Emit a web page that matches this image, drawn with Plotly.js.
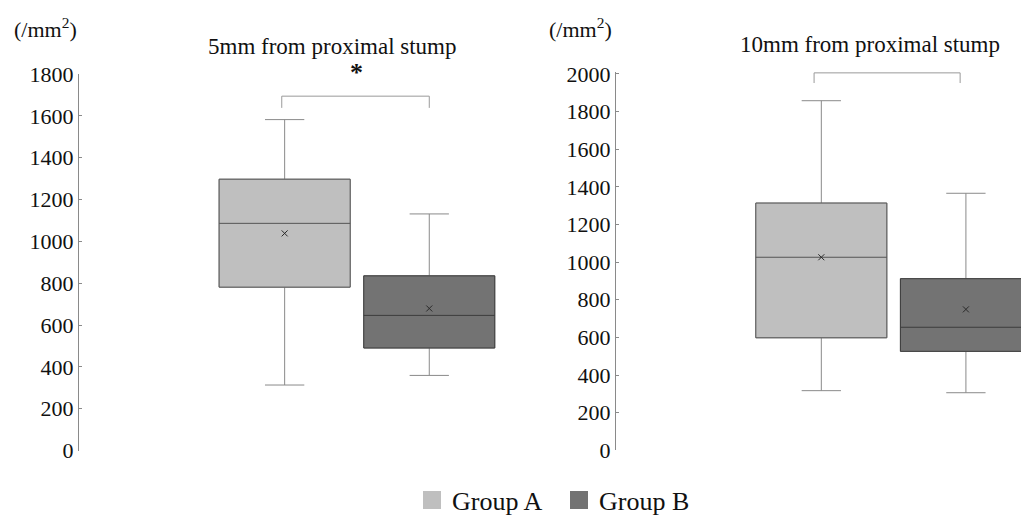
<!DOCTYPE html>
<html>
<head>
<meta charset="utf-8">
<script src="https://cdn.plot.ly/plotly-3.0.1.min.js"></script>
<style>html,body{margin:0;padding:0;background:#fff;}#chart{width:1021px;height:516px;}</style>
</head>
<body>
<div id="chart"></div>
<script>
// ---- data ----
const categories = ['Group A', 'Group B'];
const panelTitles = ['5mm from proximal stump', '10mm from proximal stump'];
const unitLabel = '(/mm<sup>2</sup>)';

const lower5 = [313, 359];
const q1_5 = [781, 490];
const median5 = [1086, 646];
const q3_5 = [1297, 835];
const upper5 = [1582, 1131];
const mean5 = [1038, 679];

const lower10 = [317, 306];
const q1_10 = [598, 526];
const median10 = [1026, 654];
const q3_10 = [1314, 912];
const upper10 = [1858, 1366];
const mean10 = [1026, 749];

const yTicks5 = [0, 200, 400, 600, 800, 1000, 1200, 1400, 1600, 1800];
const yTicks10 = [0, 200, 400, 600, 800, 1000, 1200, 1400, 1600, 1800, 2000];
const significance = ['*', ''];

// ---- style ----
const FONT = 'Liberation Serif, Times New Roman, serif';
const fills = ['#bfbfbf', '#737373'];
const edges = ['#555555', '#3c3c3c'];
const whiskerColor = '#8a8a8a';
const positions = [0, 1];
const boxWidth = 0.906;

const panels = [
  {xa: 'x', ya: 'y', lower: lower5, q1: q1_5, med: median5, q3: q3_5, upper: upper5, mean: mean5},
  {xa: 'x2', ya: 'y2', lower: lower10, q1: q1_10, med: median10, q3: q3_10, upper: upper10, mean: mean10}
];

const traces = [];
panels.forEach(p => {
  categories.forEach((c, i) => {
    traces.push({
      type: 'box', name: c, xaxis: p.xa, yaxis: p.ya, showlegend: false,
      x: [positions[i]], q1: [p.q1[i]], median: [p.med[i]], q3: [p.q3[i]],
      lowerfence: [p.lower[i]], upperfence: [p.upper[i]],
      width: boxWidth, whiskerwidth: 0.3,
      fillcolor: fills[i], line: {color: whiskerColor, width: 1},
      hoverinfo: 'skip'
    });
    traces.push({
      type: 'box', name: c, xaxis: p.xa, yaxis: p.ya, showlegend: false,
      x: [positions[i]], q1: [p.q1[i]], median: [p.med[i]], q3: [p.q3[i]],
      lowerfence: [p.q1[i]], upperfence: [p.q3[i]],
      width: boxWidth, whiskerwidth: 0,
      fillcolor: fills[i], line: {color: edges[i], width: 1},
      hoverinfo: 'skip'
    });
  });
  traces.push({
    type: 'scatter', mode: 'markers', xaxis: p.xa, yaxis: p.ya, showlegend: false,
    x: positions, y: p.mean,
    marker: {symbol: 'x-thin-open', size: 6, line: {width: 1, color: '#2a2a2a'}, color: '#2a2a2a'},
    hoverinfo: 'skip'
  });
});
categories.forEach((c, i) => {
  traces.push({
    type: 'scatter', mode: 'markers', name: c, xaxis: 'x', yaxis: 'y',
    x: [null], y: [null], showlegend: true,
    marker: {symbol: 'square', size: 16, color: fills[i], line: {color: fills[i], width: 2}}
  });
});

function yaxisDef(ticks, range, domain, anchor) {
  return {
    domain: domain, range: range, anchor: anchor, tickvals: ticks, ticktext: ticks.map(String),
    showline: true, linecolor: '#8a8a8a', linewidth: 1,
    ticks: 'inside', ticklen: 3, tickcolor: '#8a8a8a', tickwidth: 1,
    showgrid: false, zeroline: false,
    tickfont: {family: FONT, size: 22, color: '#111'}
  };
}
function xaxisDef(domain, range, anchor) {
  return {domain: domain, range: range, anchor: anchor, visible: false, showgrid: false, zeroline: false};
}

const W = 1021, H = 516;
const layout = {
  width: W, height: H,
  margin: {l: 0, r: 0, t: 0, b: 0, autoexpand: false},
  paper_bgcolor: '#fff', plot_bgcolor: 'rgba(0,0,0,0)',
  boxmode: 'overlay',
  showlegend: true,
  hovermode: false,
  font: {family: FONT, color: '#111'},
  xaxis: xaxisDef([79 / W, 560 / W], [-1.422, 1.904], 'y'),
  yaxis: yaxisDef(yTicks5, [0, 1800], [(H - 450.5) / H, (H - 74) / H], 'x'),
  xaxis2: xaxisDef([616 / W, 1], [-1.42, 1.381], 'y2'),
  yaxis2: yaxisDef(yTicks10, [0, 2010.6], [(H - 450.3) / H, (H - 72) / H], 'x2'),
  legend: {
    orientation: 'h', x: 412 / W, xanchor: 'left', y: 16 / H, yanchor: 'middle',
    font: {family: FONT, size: 26, color: '#111'}, bgcolor: 'rgba(0,0,0,0)',
    traceorder: 'normal', entrywidth: 102, entrywidthmode: 'pixels'
  },
  annotations: [
    {text: panelTitles[0], xref: 'paper', yref: 'paper', x: 332.5 / W, y: (H - 46) / H,
     xanchor: 'center', yanchor: 'middle', showarrow: false, font: {family: FONT, size: 23, color: '#111'}},
    {text: panelTitles[1], xref: 'paper', yref: 'paper', x: 870 / W, y: (H - 44) / H,
     xanchor: 'center', yanchor: 'middle', showarrow: false, font: {family: FONT, size: 23, color: '#111'}},
    {text: unitLabel, xref: 'paper', yref: 'paper', x: 12 / W, y: (H - 28) / H,
     xanchor: 'left', yanchor: 'middle', showarrow: false, font: {family: FONT, size: 22, color: '#111'}},
    {text: unitLabel, xref: 'paper', yref: 'paper', x: 547 / W, y: (H - 28) / H,
     xanchor: 'left', yanchor: 'middle', showarrow: false, font: {family: FONT, size: 22, color: '#111'}},
    {text: '<b>' + significance[0] + '</b>', xref: 'x', yref: 'paper', x: 0.5, y: (H - 72) / H,
     xanchor: 'center', yanchor: 'middle', showarrow: false, font: {family: FONT, size: 26, color: '#111'}}
  ],
  shapes: [
    {type: 'path', xref: 'x', yref: 'y',
     path: `M ${positions[0] - 0.02},1638 L ${positions[0] - 0.02},1694 L ${positions[1]},1694 L ${positions[1]},1638`,
     line: {color: '#9a9a9a', width: 1}},
    {type: 'path', xref: 'x2', yref: 'y2',
     path: `M ${positions[0] - 0.05},1952 L ${positions[0] - 0.05},2006 L ${positions[1] - 0.04},2006 L ${positions[1] - 0.04},1952`,
     line: {color: '#9a9a9a', width: 1}}
  ]
};

Plotly.newPlot('chart', traces, layout, {staticPlot: true, displayModeBar: false});
</script>
</body>
</html>
